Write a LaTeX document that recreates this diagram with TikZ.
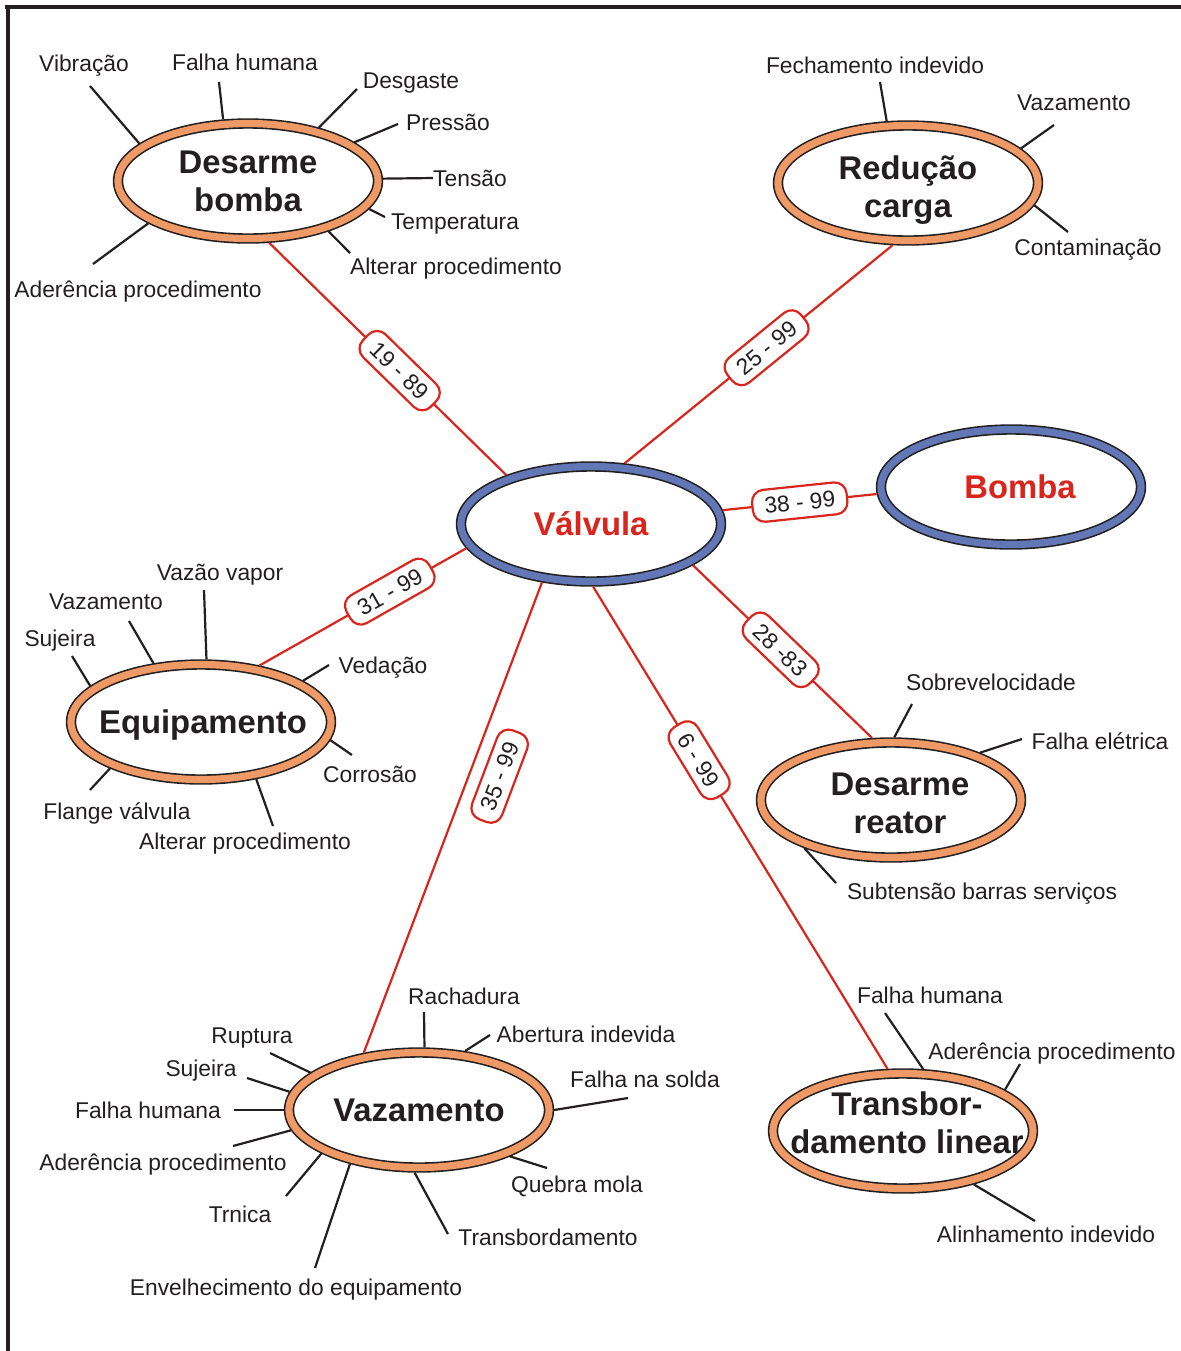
\documentclass[tikz,border=0pt]{standalone}
\usepackage{fontspec}
\setmainfont{Liberation Sans}
\usetikzlibrary{shapes.geometric}
\definecolor{ink}{RGB}{35,31,32}
\definecolor{ring}{RGB}{239,153,102}
\definecolor{bluering}{RGB}{98,119,181}
\definecolor{linkred}{RGB}{218,37,29}
% #1 = twice the shift to the right, #2 = raise of the last baseline
\newcommand{\hubtext}[3]{\makebox[0pt]{\hspace{#1}\raisebox{#2}[0pt][0pt]{%
  \begin{tabular}[b]{@{}c@{}}#3\end{tabular}}}}
\tikzset{
  hub/.style   = {shape=ellipse, draw=ink, line width=0.8pt,
                  double=ring, double distance=3.6pt, fill=white,
                  minimum width=130pt, minimum height=57.5pt,
                  outer sep=2.6pt, inner sep=0pt, text=ink,
                  font=\fontsize{16.4}{19}\selectfont\bfseries},
  core/.style  = {hub, double=bluering, text=linkred},
  cause/.style = {text=ink, inner sep=0pt, text height=8.2pt, text depth=0pt,
                  font=\fontsize{11.4}{13}\selectfont},
  leg/.style   = {draw=ink, line width=1.1pt},
  link/.style  = {draw=linkred, line width=1.1pt},
  rng/.style   = {shape=rectangle, rounded corners=6pt, draw=linkred,
                  line width=1.1pt, fill=white, sloped,
                  inner xsep=6pt, inner ysep=3.9pt,
                  text height=8.2pt, text depth=0pt, text=ink,
                  font=\fontsize{11.4}{13}\selectfont}
}

\begin{document}
\begin{tikzpicture}[x=0.5pt, y=-0.5pt]
  \useasboundingbox (0,0) rectangle (1181,1351);
  % frame
  \draw[ink, line width=2pt] (5,7) -- (1181,7);
  \draw[ink, line width=1.6pt] (8,6) -- (8,1351);

  % hubs
  \node[core] (v)  at (591,524)  {\hubtext{0pt}{-5.9pt}{Válvula}};
  \node[core] (bo) at (1011,487) {\hubtext{9pt}{-5.9pt}{Bomba}};
  \node[hub]  (db) at (248,181)  {\hubtext{0pt}{-15.4pt}{Desarme\\bomba}};
  \node[hub]  (rc) at (908,183)  {\hubtext{0pt}{-17.4pt}{Redução\\carga}};
  \node[hub]  (eq) at (201,722)  {\hubtext{2pt}{-5.9pt}{Equipamento}};
  \node[hub]  (dr) at (891,800)  {\hubtext{9pt}{-16.6pt}{Desarme\\reator}};
  \node[hub]  (vz) at (419,1110) {\hubtext{0pt}{-5.9pt}{Vazamento}};
  \node[hub]  (tl) at (903,1131) {\hubtext{4pt}{-11.4pt}{Transbor-\\damento linear}};

  % links from Válvula
  \draw[link] (v.150) -- node[rng, pos=0.45] (r1) {19 - 89} (db.-71);
  \draw[link] (v.61)  -- node[rng, pos=0.53] (r2) {25 - 99} (rc.-104);
  \draw[link] (v.6)   -- node[rng, pos=0.5]  (r3) {38 - 99} (bo.183);
  \draw[link] (v.191) -- node[rng, pos=0.37] (r4) {31 - 99} (eq.44);
  \draw[link] (v.-22) -- node[rng, pos=0.49] (r5) {28 -83} (dr.107);
  \draw[link] (v.230) -- node[rng, pos=0.39, below=6pt] (r6) {35 - 99} (vz.134);
  \draw[link] (v.-88) -- node[rng, pos=0.36] (r7) {6 - 99} (tl.104);

  % Desarme bomba
  \coordinate (db1) at (90,86);   \coordinate (db2) at (219,82);
  \coordinate (db3) at (357,89);  \coordinate (db4) at (398,124);
  \coordinate (db5) at (433,178); \coordinate (db6) at (385,217);
  \coordinate (db7) at (350,253); \coordinate (db8) at (93,264);
  \draw[leg] (db.161) -- (db1);
  \draw[leg] (db.112) -- (db2);
  \draw[leg] (db.37)  -- (db3);
  \draw[leg] (db.20)  -- (db4);
  \draw[leg] (db.1)   -- (db5);
  \draw[leg] (db.-13) -- (db6);
  \draw[leg] (db.-32) -- (db7);
  \draw[leg] (db.203) -- (db8);
  \node[cause] (tdb1) at (84,63)  {Vibração};
  \node[cause] (tdb2) at (245,62) {Falha humana};
  \node[cause] (tdb3) at (411,80) {Desgaste};
  \node[cause] (tdb4) at (448,122) {Pressão};
  \node[cause] (tdb5) at (470,178) {Tensão};
  \node[cause] (tdb6) at (455,221) {Temperatura};
  \node[cause] (tdb7) at (456,266) {Alterar procedimento};
  \node[cause] (tdb8) at (138,289) {Aderência procedimento};

  % Redução carga
  \coordinate (rc1) at (880,82); \coordinate (rc2) at (1054,125);
  \coordinate (rc3) at (1068,232);
  \draw[leg] (rc.109) -- (rc1);
  \draw[leg] (rc.17)  -- (rc2);
  \draw[leg] (rc.-10) -- (rc3);
  \node[cause] (trc1) at (875,65)   {Fechamento indevido};
  \node[cause] (trc2) at (1074,102) {Vazamento};
  \node[cause] (trc3) at (1088,247) {Contaminação};

  % Equipamento
  \coordinate (eq1) at (72,656);  \coordinate (eq2) at (129,621);
  \coordinate (eq3) at (204,590); \coordinate (eq4) at (329,665);
  \coordinate (eq5) at (352,755); \coordinate (eq6) at (273,826);
  \coordinate (eq7) at (90,790);
  \draw[leg] (eq.162) -- (eq1);
  \draw[leg] (eq.129) -- (eq2);
  \draw[leg] (eq.85)  -- (eq3);
  \draw[leg] (eq.22)  -- (eq4);
  \draw[leg] (eq.-8)  -- (eq5);
  \draw[leg] (eq.-46) -- (eq6);
  \draw[leg] (eq.207) -- (eq7);
  \node[cause] (teq1) at (60,638)  {Sujeira};
  \node[cause] (teq2) at (106,601) {Vazamento};
  \node[cause] (teq3) at (220,572) {Vazão vapor};
  \node[cause] (teq4) at (383,665) {Vedação};
  \node[cause] (teq5) at (370,774) {Corrosão};
  \node[cause] (teq6) at (245,841) {Alterar procedimento};
  \node[cause] (teq7) at (117,811) {Flange válvula};

  % Desarme reator
  \coordinate (dr1) at (912,704); \coordinate (dr2) at (1022,739);
  \coordinate (dr3) at (836,883);
  \draw[leg] (dr.87)  -- (dr1);
  \draw[leg] (dr.28)  -- (dr2);
  \draw[leg] (dr.209) -- (dr3);
  \node[cause] (tdr1) at (991,682)  {Sobrevelocidade};
  \node[cause] (tdr2) at (1100,741) {Falha elétrica};
  \node[cause] (tdr3) at (982,891)  {Subtensão barras serviços};

  % Vazamento
  \coordinate (vz1) at (424,1012); \coordinate (vz2) at (490,1035);
  \coordinate (vz3) at (628,1098); \coordinate (vz4) at (547,1168);
  \coordinate (vz5) at (448,1234); \coordinate (vz6) at (315,1268);
  \coordinate (vz7) at (286,1196); \coordinate (vz8) at (233,1146);
  \coordinate (vz9) at (234,1110); \coordinate (vz10) at (247,1078);
  \coordinate (vz11) at (270,1053);
  \draw[leg] (vz.85)  -- (vz1);
  \draw[leg] (vz.52)  -- (vz2);
  \draw[leg] (vz.0)   -- (vz3);
  \draw[leg] (vz.-27) -- (vz4);
  \draw[leg] (vz.-94) -- (vz5);
  \draw[leg] (vz.218) -- (vz6);
  \draw[leg] (vz.204) -- (vz7);
  \draw[leg] (vz.189) -- (vz8);
  \draw[leg] (vz.180) -- (vz9);
  \draw[leg] (vz.172) -- (vz10);
  \draw[leg] (vz.161) -- (vz11);
  \node[cause] (tvz1) at (464,996)   {Rachadura};
  \node[cause] (tvz2) at (586,1034)  {Abertura indevida};
  \node[cause] (tvz3) at (645,1079)  {Falha na solda};
  \node[cause] (tvz4) at (577,1184)  {Quebra mola};
  \node[cause] (tvz5) at (548,1237)  {Transbordamento};
  \node[cause] (tvz6) at (296,1287)  {Envelhecimento do equipamento};
  \node[cause] (tvz7) at (240,1214)  {Trnica};
  \node[cause] (tvz8) at (163,1162)  {Aderência procedimento};
  \node[cause] (tvz9) at (148,1110)  {Falha humana};
  \node[cause] (tvz10) at (201,1068) {Sujeira};
  \node[cause] (tvz11) at (252,1035) {Ruptura};

  % Transbordamento linear
  \coordinate (tl1) at (885,1013); \coordinate (tl2) at (1020,1064);
  \coordinate (tl3) at (1035,1221);
  \draw[leg] (tl.72)  -- (tl1);
  \draw[leg] (tl.22)  -- (tl2);
  \draw[leg] (tl.-37) -- (tl3);
  \node[cause] (ttl1) at (930,995)   {Falha humana};
  \node[cause] (ttl2) at (1052,1051) {Aderência procedimento};
  \node[cause] (ttl3) at (1046,1234) {Alinhamento indevido};
\end{tikzpicture}
\end{document}
